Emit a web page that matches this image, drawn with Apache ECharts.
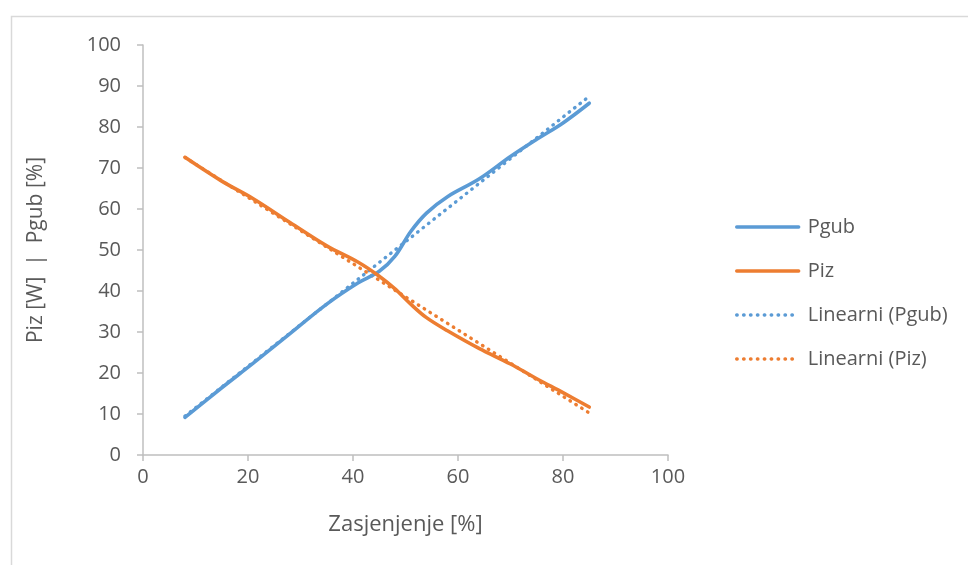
<!DOCTYPE html>
<html>
<head>
<meta charset="utf-8">
<script src="https://cdn.jsdelivr.net/npm/echarts@6/dist/echarts.min.js"></script>
<style>
  html, body { margin: 0; padding: 0; background: #fff; }
  #container { width: 968px; height: 565px; }
</style>
</head>
<body>
<div id="container"></div>
<script>
// shading values [%] and measured powers
var zasjenjenje = [8, 15, 21, 28, 35, 41, 45, 48, 51, 54, 58, 64, 70, 75, 80, 85];
var pgub = [9.2, 16.4, 22.4, 29.6, 36.8, 42, 44.8, 48.5, 54.5, 59, 63, 67.3, 72.8, 77, 81, 85.8];
var piz = [72.6, 66.8, 62.5, 56.7, 51, 47, 43.6, 40.5, 36.8, 33.5, 30.3, 26, 22.2, 18.6, 15.2, 11.7];
var xTicks = [0, 20, 40, 60, 80, 100];

var BLUE = '#5B9BD5';
var ORANGE = '#ED7D31';
var TXT = '#595959';
var FONT = '"Open Sans", "Noto Sans", sans-serif';

function pairs(xs, ys) {
    return xs.map(function (x, i) { return [x, ys[i]]; });
}

// least squares trend line, drawn across the data range like Excel does
function trend(xs, ys) {
    var n = xs.length, sx = 0, sy = 0, sxx = 0, sxy = 0;
    for (var i = 0; i < n; i++) {
        sx += xs[i]; sy += ys[i];
        sxx += xs[i] * xs[i]; sxy += xs[i] * ys[i];
    }
    var b = (n * sxy - sx * sy) / (n * sxx - sx * sx);
    var a = (sy - b * sx) / n;
    var x0 = xs[0], x1 = xs[n - 1];
    return [[x0, a + b * x0], [x1, a + b * x1]];
}

var dom = document.getElementById('container');
var myChart = echarts.init(dom, null, {renderer: 'canvas'});

var dotted = function (c) {
    return {color: c, width: 3.4, type: [0.5, 6.4], cap: 'round'};
};

var option = {
    animation: false,
    backgroundColor: '#fff',
    graphic: [{
        type: 'rect',
        left: 9, top: 14,
        shape: {width: 1000, height: 600},
        style: {fill: 'none', stroke: '#d9d9d9', lineWidth: 1.5},
        silent: true
    }],
    grid: {left: 143, right: 300, top: 45, bottom: 110},
    legend: {
        orient: 'vertical',
        left: 730,
        top: 212,
        itemWidth: 62,
        itemHeight: 14,
        itemGap: 24,
        itemStyle: {opacity: 0},
        lineStyle: {width: 3.4},
        textStyle: {color: TXT, fontSize: 20, fontFamily: FONT, padding: [0, 0, 0, 4]},
        data: ['Pgub', 'Piz', 'Linearni (Pgub)', 'Linearni (Piz)']
    },
    xAxis: {
        type: 'value',
        min: 0, max: 100, interval: 20,
        data: xTicks,
        name: 'Zasjenjenje [%]',
        nameLocation: 'middle',
        nameGap: 59,
        nameTextStyle: {color: TXT, fontSize: 22, fontFamily: FONT},
        axisLine: {show: true, lineStyle: {color: '#bfbfbf', width: 1.5}},
        axisTick: {show: true, length: 6, lineStyle: {color: '#bfbfbf', width: 1.5}},
        axisLabel: {color: TXT, fontSize: 20, fontFamily: FONT, margin: 12},
        splitLine: {show: false}
    },
    yAxis: {
        type: 'value',
        min: 0, max: 100, interval: 10,
        name: 'Piz [W]  |  Pgub [%]',
        nameLocation: 'middle',
        nameGap: 96,
        nameTextStyle: {color: TXT, fontSize: 21, fontFamily: FONT},
        axisLine: {show: true, lineStyle: {color: '#bfbfbf', width: 1.5}},
        axisTick: {show: true, length: 6, lineStyle: {color: '#bfbfbf', width: 1.5}},
        axisLabel: {color: TXT, fontSize: 20, fontFamily: FONT, margin: 22},
        splitLine: {show: false}
    },
    series: [
        {
            name: 'Pgub', type: 'line', smooth: 0.35, symbol: 'none',
            data: pairs(zasjenjenje, pgub),
            lineStyle: {color: BLUE, width: 3.6, cap: 'round'},
            itemStyle: {color: BLUE}, z: 3
        },
        {
            name: 'Piz', type: 'line', smooth: 0.35, symbol: 'none',
            data: pairs(zasjenjenje, piz),
            lineStyle: {color: ORANGE, width: 3.6, cap: 'round'},
            itemStyle: {color: ORANGE}, z: 3
        },
        {
            name: 'Linearni (Pgub)', type: 'line', symbol: 'none',
            data: trend(zasjenjenje, pgub),
            lineStyle: dotted(BLUE),
            itemStyle: {color: BLUE}, z: 2
        },
        {
            name: 'Linearni (Piz)', type: 'line', symbol: 'none',
            data: trend(zasjenjenje, piz),
            lineStyle: dotted(ORANGE),
            itemStyle: {color: ORANGE}, z: 2
        }
    ]
};

if (option && typeof option === 'object') {
    myChart.setOption(option, true);
}
</script>
</body>
</html>
